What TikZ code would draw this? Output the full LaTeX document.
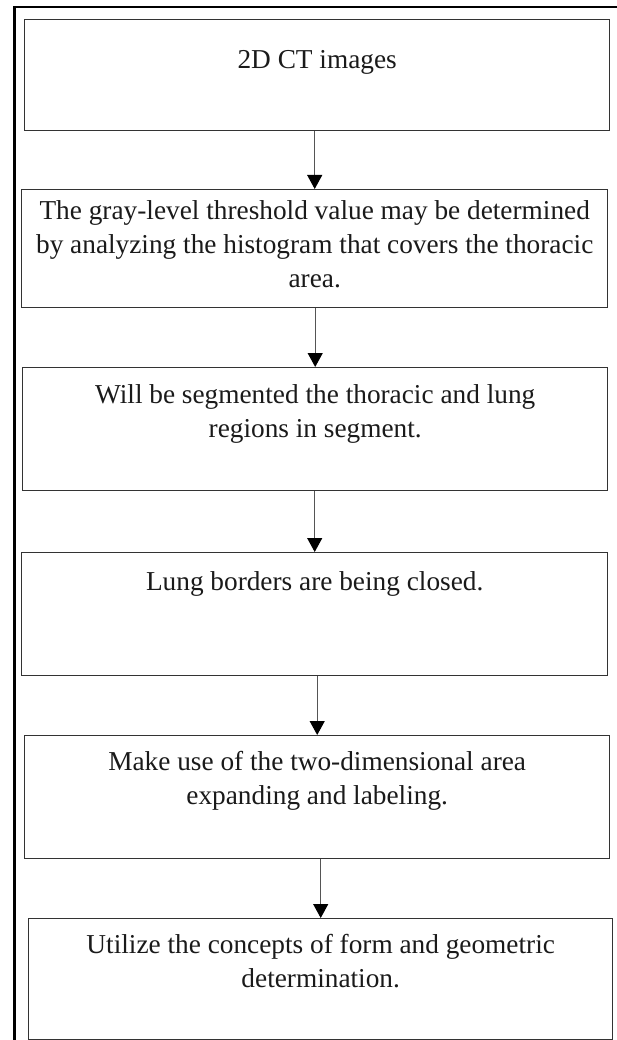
\documentclass[tikz,border=0pt]{standalone}
\usepackage{fontspec}
\setmainfont{Liberation Serif}
\usetikzlibrary{arrows.meta,calc}
\definecolor{boxline}{HTML}{333333}
\definecolor{arrline}{HTML}{555555}
\definecolor{txtcol}{HTML}{1A1A1A}
\newcommand{\boxtext}[1]{\parbox[t]{580pt}{\centering #1}}
\begin{document}
\begin{tikzpicture}[x=1pt,y=-1pt,
  stepbox/.style={draw=boxline,line width=1.4pt,rectangle,inner sep=0pt,anchor=north west},
  txt/.style={anchor=base,inner sep=0pt,text=txtcol,font=\fontsize{27.3}{34}\selectfont},
  arr/.style={draw=arrline,line width=1.1pt,-{Triangle[length=14pt,width=15pt,color=black]}}]
\useasboundingbox (0,0) rectangle (617,1040);
\fill[white] (0,0) rectangle (617,1040);
% outer frame (cut at right and bottom)
\draw[line width=2.5pt,black] (14.5,1040) -- (14.5,7) -- (617,7);
% boxes
\node[stepbox,minimum width=585pt,minimum height=111pt] (b1) at (24,19) {};
\node[stepbox,minimum width=586pt,minimum height=118pt] (b2) at (21,189) {};
\node[stepbox,minimum width=585pt,minimum height=123pt] (b3) at (22,367) {};
\node[stepbox,minimum width=586pt,minimum height=123pt] (b4) at (21,552) {};
\node[stepbox,minimum width=585pt,minimum height=123pt] (b5) at (24,735) {};
\node[stepbox,minimum width=584pt,minimum height=121pt] (b6) at (28,918) {};
% texts
\node[txt] (t1) at ($(b1.north)+(0,50)$) {\boxtext{2D CT images}};
\node[txt] (t2) at ($(b2.north)+(0,31)$) {\boxtext{The gray-level threshold value may be determined\\by analyzing the histogram that covers the thoracic\\area.}};
\node[txt] (t3) at ($(b3.north)+(0,36)$) {\boxtext{Will be segmented the thoracic and lung\\regions in segment.}};
\node[txt] (t4) at ($(b4.north)+(0,38)$) {\boxtext{Lung borders are being closed.}};
\node[txt] (t5) at ($(b5.north)+(0,35)$) {\boxtext{Make use of the two-dimensional area\\expanding and labeling.}};
\node[txt] (t6) at ($(b6.north)+(0,35)$) {\boxtext{Utilize the concepts of form and geometric\\determination.}};
% connectors
\draw[arr] (b1.south -| b2.north) -- (b2.north);
\draw[arr] (b2.south -| b3.north) -- (b3.north);
\draw[arr] (b3.south -| b4.north) -- (b4.north);
\draw[arr] (b4.south -| b5.north) -- (b5.north);
\draw[arr] (b5.south -| b6.north) -- (b6.north);
\end{tikzpicture}
\end{document}
